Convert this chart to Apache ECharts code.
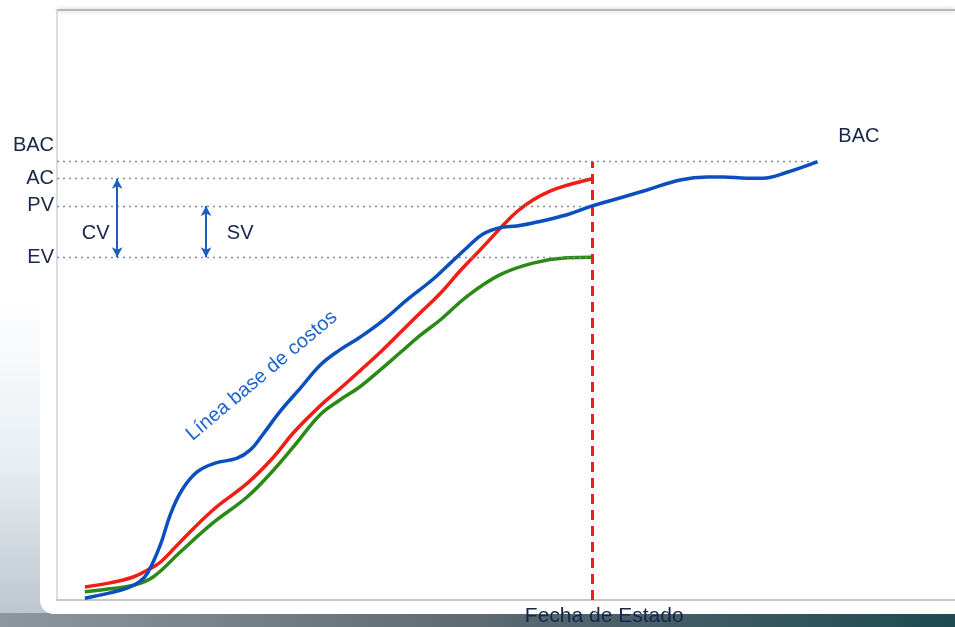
<!DOCTYPE html>
<html><head><meta charset="utf-8">
<script src="https://cdn.jsdelivr.net/npm/echarts@6/dist/echarts.min.js"></script>
<style>html,body{margin:0;padding:0;background:#fff}#c{width:955px;height:627px}</style>
</head><body><div id="c"></div>
<script>
// Planned value (cost baseline)
const pvX = [3.1,5.9,7.8,9.2,10.1,11.5,12.6,13.9,15.6,17.6,20.0,21.5,22.9,24.8,27.1,29.3,31.5,33.7,36.0,39.0,41.9,43.8,45.7,47.4,49.3,51.2,53.0,56.8,59.6,61.9,65.7,69.4,72.4,74.2,76.8,78.6,81.3,84.7];
const pvY = [0.3,1.2,2.0,3.1,4.6,9.3,14.4,18.6,21.7,23.2,24.0,25.4,28.0,31.9,35.9,39.8,42.4,44.5,47.0,50.9,54.4,57.1,59.8,62.0,63.1,63.4,63.9,65.3,66.8,67.8,69.5,71.2,71.7,71.7,71.5,71.5,72.5,74.3];
// Actual cost
const acX = [3.1,5.9,8.5,10.1,11.5,13.7,17.4,21.2,24.1,26.3,29.3,31.5,33.7,36.0,38.2,40.4,42.7,44.9,47.1,49.3,51.2,53.0,54.9,56.8,59.6];
const acY = [2.2,2.9,3.9,5.1,6.4,9.8,15.3,19.8,24.2,28.3,32.9,35.8,38.8,42.0,45.3,48.6,52.0,55.8,59.3,62.9,65.8,67.8,69.3,70.3,71.4];
// Earned value
const evX = [3.1,5.9,8.5,10.7,13.7,17.4,21.2,24.1,26.3,29.3,31.5,33.7,36.0,38.2,40.4,42.7,45.7,49.3,53.0,56.8,59.6];
const evY = [1.4,1.9,2.5,3.9,8.1,13.1,17.5,22.0,25.9,31.4,33.9,36.1,39.0,41.9,44.8,47.5,51.5,55.1,57.1,58.0,58.1];
// Reference levels (tick labels on the left)
const levelNames = ['BAC','AC','PV','EV'];
const levelValues = [74.3, 71.4, 66.8, 58.1];
const statusDate = 59.6;
const bacEndX = 84.7;
const statusLabel = 'Fecha de Estado';
const baselineLabel = 'Línea base de costos';

const FONT = '"Liberation Sans", Arial, Helvetica, sans-serif';
const NAVY = '#172649';
const BLUE = '#0b4fbf';
const RED = '#f11e14';
const GREEN = '#2b8a16';
const DOT = '#7f8ea3';

const zip = (xs, ys) => xs.map((x, i) => [x, ys[i]]);
const lv = n => levelValues[levelNames.indexOf(n)];

const levelLines = levelNames.map((n, i) => {
  const endX = n === 'BAC' ? bacEndX : statusDate;
  return [
    { coord: [0, levelValues[i]],
      label: { show: true, position: 'start', formatter: n, distance: 3,
               offset: n === 'BAC' ? [0, -16] : [0, 0],
               color: NAVY, fontSize: 20, fontFamily: FONT } },
    { coord: [endX, levelValues[i]] }
  ];
});

const chart = echarts.init(document.getElementById('c'), null, { renderer: 'canvas' });
chart.setOption({
  animation: false,
  backgroundColor: '#ffffff',
  graphic: [
    { type: 'rect', silent: true, z: -10, shape: { x: 0, y: 300, width: 60, height: 327 },
      style: { fill: new echarts.graphic.LinearGradient(0, 0, 0, 1, [
        { offset: 0, color: '#ffffff' }, { offset: 0.5, color: '#e8eef3' }, { offset: 1, color: '#b9c3cc' }]) } },
    { type: 'rect', silent: true, z: -9, shape: { x: 0, y: 613, width: 955, height: 14 },
      style: { fill: new echarts.graphic.LinearGradient(0, 0, 1, 0, [
        { offset: 0, color: '#8d979f' }, { offset: 0.5, color: '#5d6a72' }, { offset: 1, color: '#1d4a53' }]) } },
    { type: 'rect', silent: true, z: -8, shape: { x: 40, y: 8, width: 930, height: 606, r: [0, 0, 0, 14] },
      style: { fill: '#ffffff' } },
    { type: 'line', silent: true, z: -7, shape: { x1: 57, y1: 10, x2: 955, y2: 10 },
      style: { stroke: '#b8b8b8', lineWidth: 2, shadowBlur: 4, shadowColor: 'rgba(0,0,0,0.25)' } }
  ],
  grid: { left: 57, right: 0, top: 10, bottom: 27 },
  xAxis: {
    type: 'value', min: 0, max: 100,
    axisLine: { show: true, lineStyle: { color: '#c6c6c6', width: 2 } },
    axisTick: { show: false }, axisLabel: { show: false }, splitLine: { show: false }
  },
  yAxis: {
    type: 'value', min: 0, max: 100,
    axisLine: { show: true, lineStyle: { color: '#d2d2d2', width: 1.5 } },
    axisTick: { show: false }, axisLabel: { show: false }, splitLine: { show: false }
  },
  series: [
    {
      name: 'PV', type: 'line', data: zip(pvX, pvY), smooth: 0.4, showSymbol: false,
      lineStyle: { color: BLUE, width: 3.5 }, z: 5,
      markLine: {
        silent: true, symbol: ['none', 'none'], animation: false,
        lineStyle: { color: DOT, width: 1.4, type: [2, 4] },
        data: levelLines
      }
    },
    {
      name: 'AC', type: 'line', data: zip(acX, acY), smooth: 0.4, showSymbol: false,
      lineStyle: { color: RED, width: 3.5 }, z: 4,
      markLine: {
        silent: true, symbol: ['none', 'none'], animation: false,
        lineStyle: { color: RED, width: 3, type: [10, 6] },
        data: [[
          { coord: [statusDate, 0],
            label: { show: true, position: 'start', formatter: statusLabel, distance: 6, offset: [12, 0],
                     color: NAVY, fontSize: 21, fontFamily: FONT } },
          { coord: [statusDate, lv('BAC')] }
        ]]
      }
    },
    {
      name: 'EV', type: 'line', data: zip(evX, evY), smooth: 0.4, showSymbol: false,
      lineStyle: { color: GREEN, width: 3.5 }, z: 3,
      markLine: {
        silent: true, symbol: ['arrow', 'arrow'], symbolSize: [8, 10], animation: false,
        lineStyle: { color: '#1a5fbf', width: 2, type: 'solid' },
        label: { show: false },
        data: [
          [{ coord: [6.7, lv('AC')] }, { coord: [6.7, lv('EV')] }],
          [{ coord: [16.6, lv('PV')] }, { coord: [16.6, lv('EV')] }]
        ]
      },
      markPoint: {
        silent: true, symbol: 'circle', symbolSize: 0, animation: false,
        label: { show: true, position: 'inside', color: NAVY, fontSize: 20, fontFamily: FONT },
        data: [
          { coord: [4.3, 62.2], label: { formatter: 'CV' } },
          { coord: [20.4, 62.2], label: { formatter: 'SV' } },
          { coord: [89.3, 78.5], label: { formatter: 'BAC' } },
          { coord: [22.8, 38.0], label: { formatter: baselineLabel, rotate: 40, color: '#1f66cc', fontSize: 20 } }
        ]
      }
    }
  ]
});
</script></body></html>
